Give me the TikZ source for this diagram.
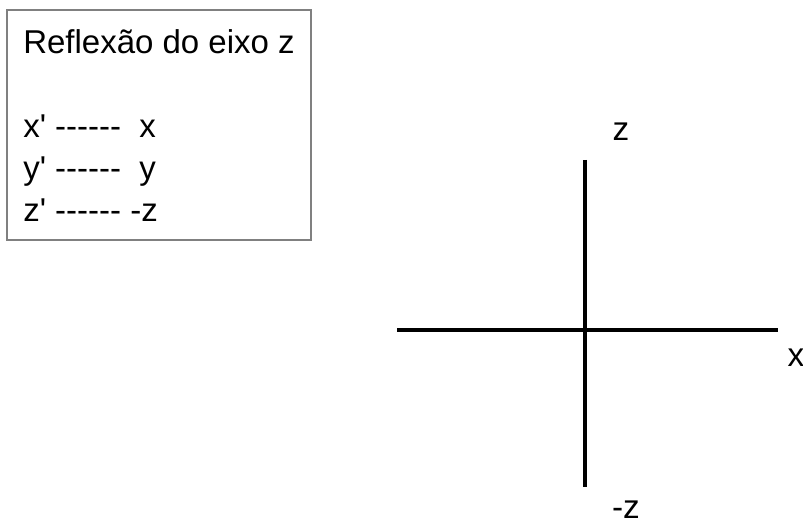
\documentclass[tikz,border=0pt]{standalone}
\usepackage{fontspec}
\newfontfamily\labelfont{Liberation Sans}
\usetikzlibrary{positioning}

\tikzset{
  boxtext/.style={anchor=base west, inner sep=0pt, font=\labelfont\fontsize{24.75}{30}\selectfont},
  axislabel/.style={inner sep=0pt, font=\labelfont\fontsize{25}{30}\selectfont},
  axisline/.style={line width=2.6pt, black},
}

\begin{document}
\begin{tikzpicture}[x=0.75pt, y=-0.75pt]
  \useasboundingbox (0,0) rectangle (803,527);
  % legend box
  \draw[gray, line width=1pt] (7,10) rectangle (311,240);
  \node (title) [boxtext] at (23,54) {Reflexão do eixo z};
  \node (rowx) [boxtext] at (23,138) {x' ------\ \ x};
  \node (rowy) [boxtext] at (23,180) {y' ------\ \ y};
  \node (rowz) [boxtext] at (23,222) {z' ------ -z};
  % axes
  \coordinate (origin) at (585,330);
  \coordinate (ztop) at (585,160);
  \coordinate (zbot) at (585,487);
  \coordinate (xleft) at (397,330);
  \coordinate (xright) at (778,330);
  \draw[axisline] (xleft) -- (xright);
  \draw[axisline, line width=2.3pt] (ztop) -- (origin);
  \draw[axisline, line width=3.6pt] (origin) -- (zbot);
  \node (zlbl) [axislabel] at (621,132) {z};
  \node (xlbl) [axislabel] at (796,358) {x};
  \node (mzlbl) [axislabel] at (626,510) {-z};
\end{tikzpicture}
\end{document}
